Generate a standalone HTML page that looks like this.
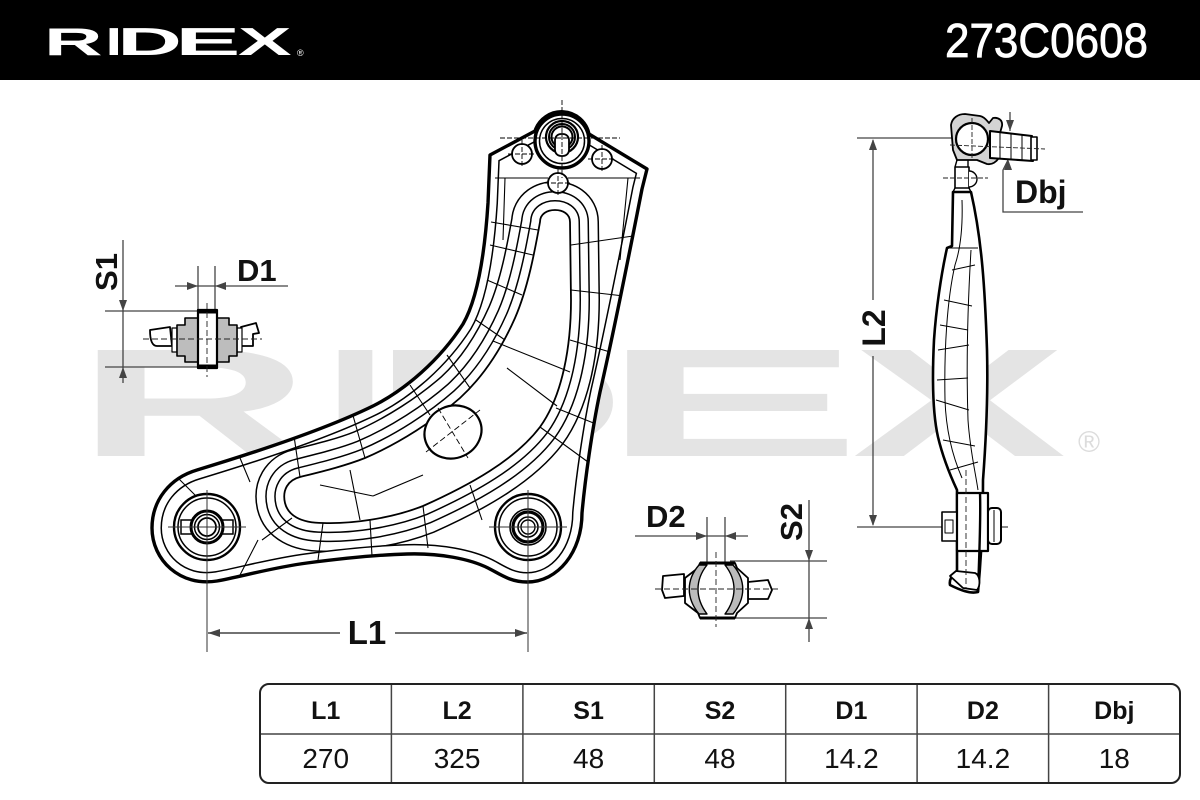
<!DOCTYPE html>
<html>
<head>
<meta charset="utf-8">
<style>
html,body{margin:0;padding:0;background:#fff;}
svg{display:block;}
</style>
</head>
<body>
<svg width="1200" height="800" viewBox="0 0 1200 800" xmlns="http://www.w3.org/2000/svg" font-family="'Liberation Sans', Arial, sans-serif">
<defs>
  <clipPath id="armclip">
    <path d="M490,155 L535,131 A28,28 0 0 1 589,134 L647,169 L642,189 C632,240 612,340 600,392 C592,430 585,480 582,513 C582,552 558,582 527,582 C510,582 500,574 488,568 C470,559 440,553 407,554 C370,555 330,560 307,563 C270,568 240,577 217,581 C180,587 152,560 152,528 C152,500 170,478 197,470 C240,457 320,432 373,406 C405,390 440,360 463,324 C478,298 485,250 488,203 Z"/>
  </clipPath>
</defs>

<rect width="1200" height="800" fill="#fff"/>

<!-- HEADER -->
<rect x="0" y="0" width="1200" height="80" fill="#000"/>
<g fill="#fff" font-weight="700" font-size="38.5">
  <text x="44" y="55" textLength="58.6" lengthAdjust="spacingAndGlyphs">R</text>
  <text x="105.7" y="55" textLength="16.3" lengthAdjust="spacingAndGlyphs">I</text>
  <text x="117.3" y="55" textLength="64.7" lengthAdjust="spacingAndGlyphs">D</text>
  <text x="175.3" y="55" textLength="65.2" lengthAdjust="spacingAndGlyphs">E</text>
  <text x="238" y="55" textLength="53.6" lengthAdjust="spacingAndGlyphs">X</text>
</g>
<text x="297" y="56" font-size="9" fill="#fff">®</text>
<text x="945" y="57" font-size="48.5" fill="#fff" stroke="#fff" stroke-width="0.8" textLength="203" lengthAdjust="spacingAndGlyphs">273C0608</text>

<!-- WATERMARK -->
<g fill="#e4e4e4" font-weight="700" font-size="154">
  <text x="76" y="456" textLength="234.6" lengthAdjust="spacingAndGlyphs">R</text>
  <text x="323" y="456" textLength="65" lengthAdjust="spacingAndGlyphs">I</text>
  <text x="369" y="456" textLength="259" lengthAdjust="spacingAndGlyphs">D</text>
  <text x="601" y="456" textLength="261" lengthAdjust="spacingAndGlyphs">E</text>
  <text x="852" y="456" textLength="214.5" lengthAdjust="spacingAndGlyphs">X</text>
</g>
<text x="1089" y="452" font-size="30" fill="#dcdcdc" text-anchor="middle">®</text>

<!-- ===== MAIN ARM ===== -->
<path d="M490,155 L535,131 A28,28 0 0 1 589,134 L647,169 L642,189 C632,240 612,340 600,392 C592,430 585,480 582,513 C582,552 558,582 527,582 C510,582 500,574 488,568 C470,559 440,553 407,554 C370,555 330,560 307,563 C270,568 240,577 217,581 C180,587 152,560 152,528 C152,500 170,478 197,470 C240,457 320,432 373,406 C405,390 440,360 463,324 C478,298 485,250 488,203 Z" fill="#fff"/>

<g clip-path="url(#armclip)" stroke-linejoin="round" fill="none">
  <path d="M540,222 C540,214 547,210 555,210 C563,210 570,214 570,222 L571,300 C571,345 563,395 540,427 C515,460 470,485 423,506 C390,519 350,524 323,523 C300,523 288,515 285,503 C282,490 288,480 300,477 C320,472 345,466 365,458 C400,443 435,420 460,398 C485,375 503,345 515,318 C528,288 535,250 540,222 Z" stroke="#000" stroke-width="58"/>
  <path d="M540,222 C540,214 547,210 555,210 C563,210 570,214 570,222 L571,300 C571,345 563,395 540,427 C515,460 470,485 423,506 C390,519 350,524 323,523 C300,523 288,515 285,503 C282,490 288,480 300,477 C320,472 345,466 365,458 C400,443 435,420 460,398 C485,375 503,345 515,318 C528,288 535,250 540,222 Z" stroke="#fff" stroke-width="55"/>
  <path d="M540,222 C540,214 547,210 555,210 C563,210 570,214 570,222 L571,300 C571,345 563,395 540,427 C515,460 470,485 423,506 C390,519 350,524 323,523 C300,523 288,515 285,503 C282,490 288,480 300,477 C320,472 345,466 365,458 C400,443 435,420 460,398 C485,375 503,345 515,318 C528,288 535,250 540,222 Z" stroke="#000" stroke-width="38"/>
  <path d="M540,222 C540,214 547,210 555,210 C563,210 570,214 570,222 L571,300 C571,345 563,395 540,427 C515,460 470,485 423,506 C390,519 350,524 323,523 C300,523 288,515 285,503 C282,490 288,480 300,477 C320,472 345,466 365,458 C400,443 435,420 460,398 C485,375 503,345 515,318 C528,288 535,250 540,222 Z" stroke="#fff" stroke-width="35"/>
  <path d="M540,222 C540,214 547,210 555,210 C563,210 570,214 570,222 L571,300 C571,345 563,395 540,427 C515,460 470,485 423,506 C390,519 350,524 323,523 C300,523 288,515 285,503 C282,490 288,480 300,477 C320,472 345,466 365,458 C400,443 435,420 460,398 C485,375 503,345 515,318 C528,288 535,250 540,222 Z" stroke="#000" stroke-width="20"/>
  <path d="M540,222 C540,214 547,210 555,210 C563,210 570,214 570,222 L571,300 C571,345 563,395 540,427 C515,460 470,485 423,506 C390,519 350,524 323,523 C300,523 288,515 285,503 C282,490 288,480 300,477 C320,472 345,466 365,458 C400,443 435,420 460,398 C485,375 503,345 515,318 C528,288 535,250 540,222 Z" stroke="#fff" stroke-width="17"/>
  <path d="M540,222 C540,214 547,210 555,210 C563,210 570,214 570,222 L571,300 C571,345 563,395 540,427 C515,460 470,485 423,506 C390,519 350,524 323,523 C300,523 288,515 285,503 C282,490 288,480 300,477 C320,472 345,466 365,458 C400,443 435,420 460,398 C485,375 503,345 515,318 C528,288 535,250 540,222 Z" stroke="#000" stroke-width="1.8" fill="#fff"/>

  <path d="M490,155 L535,131 A28,28 0 0 1 589,134 L647,169 L642,189 C632,240 612,340 600,392 C592,430 585,480 582,513 C582,552 558,582 527,582 C510,582 500,574 488,568 C470,559 440,553 407,554 C370,555 330,560 307,563 C270,568 240,577 217,581 C180,587 152,560 152,528 C152,500 170,478 197,470 C240,457 320,432 373,406 C405,390 440,360 463,324 C478,298 485,250 488,203 Z" stroke="#000" stroke-width="20"/>
  <path d="M490,155 L535,131 A28,28 0 0 1 589,134 L647,169 L642,189 C632,240 612,340 600,392 C592,430 585,480 582,513 C582,552 558,582 527,582 C510,582 500,574 488,568 C470,559 440,553 407,554 C370,555 330,560 307,563 C270,568 240,577 217,581 C180,587 152,560 152,528 C152,500 170,478 197,470 C240,457 320,432 373,406 C405,390 440,360 463,324 C478,298 485,250 488,203 Z" stroke="#fff" stroke-width="17"/>

  <g stroke="#000" stroke-width="1.1">
    <path d="M495,178 L548,178 M568,178 L640,178"/>
    <path d="M505,178 L503,240 M628,178 L620,260"/>
    <path d="M571,245 L633,236 M571,290 L624,296 M570,340 L610,352 M556,408 L596,424 M540,427 L588,462"/>
    <path d="M470,485 L482,520 M423,506 L428,548 M370,520 L372,556 M323,523 L318,560 M292,518 L262,540"/>
    <path d="M300,477 L294,436 M365,458 L352,412 M430,415 L410,385 M470,388 L447,355 M505,340 L476,320 M522,295 L487,280 M533,255 L490,245 M538,230 L491,222"/>
    <path d="M493,341 L570,372 M507,368 L557,406 M320,485 L373,496 M373,496 L423,475 M350,470 L360,520"/>
    <path d="M240,458 L250,482 M200,500 L175,475 M258,540 L240,575"/>
  </g>
</g>

<path d="M490,155 L535,131 A28,28 0 0 1 589,134 L647,169 L642,189 C632,240 612,340 600,392 C592,430 585,480 582,513 C582,552 558,582 527,582 C510,582 500,574 488,568 C470,559 440,553 407,554 C370,555 330,560 307,563 C270,568 240,577 217,581 C180,587 152,560 152,528 C152,500 170,478 197,470 C240,457 320,432 373,406 C405,390 440,360 463,324 C478,298 485,250 488,203 Z" fill="none" stroke="#000" stroke-width="3.4" stroke-linejoin="round"/>

<g fill="#fff" stroke="#000">
  <circle cx="562" cy="141" r="27" stroke-width="3.4"/>
  <circle cx="562" cy="141" r="22.5" stroke-width="1.5"/>
  <circle cx="562" cy="137" r="16" stroke-width="2.2"/>
  <circle cx="562" cy="137" r="13" stroke-width="2"/>
  <circle cx="562" cy="137" r="10.5" stroke-width="2"/>
  <rect x="555" y="134" width="14" height="22" rx="6" stroke-width="1.8"/>
  <circle cx="522" cy="154" r="10" stroke-width="1.8"/>
  <circle cx="602" cy="159" r="10" stroke-width="1.8"/>
  <circle cx="558" cy="183" r="10" stroke-width="1.8"/>
</g>
<g stroke="#000" stroke-width="0.9" fill="none" stroke-dasharray="5 2">
  <path d="M562,100 L562,178 M500,138 L620,138"/>
  <path d="M508,154 L536,154 M522,140 L522,168"/>
  <path d="M588,159 L616,159 M602,145 L602,173"/>
  <path d="M544,183 L572,183 M558,169 L558,197"/>
</g>

<ellipse cx="453" cy="432" rx="29" ry="26" transform="rotate(-25 453 432)" fill="#fff" stroke="#000" stroke-width="2.2"/>
<g stroke="#000" stroke-width="0.9" stroke-dasharray="6 3">
  <path d="M426,452 L480,410 M438,408 L468,458"/>
</g>

<g fill="#fff" stroke="#000">
  <circle cx="207" cy="527" r="33" stroke-width="2.4"/>
  <circle cx="207" cy="527" r="29" stroke-width="1.5"/>
  <rect x="181" y="520" width="52" height="14" stroke-width="1.5"/>
  <circle cx="207" cy="527" r="16" stroke-width="3"/>
  <circle cx="207" cy="527" r="12.5" stroke-width="1.5"/>
  <circle cx="207" cy="527" r="9" stroke-width="1.8"/>

  <circle cx="528" cy="527" r="33" stroke-width="2.4"/>
  <circle cx="528" cy="527" r="29" stroke-width="1.5"/>
  <circle cx="528" cy="527" r="18" stroke-width="1.6"/>
  <circle cx="528" cy="527" r="15" stroke-width="3.2"/>
  <circle cx="528" cy="527" r="10" stroke-width="1.6"/>
  <circle cx="528" cy="527" r="7" stroke-width="1.4"/>
</g>
<g stroke="#333" stroke-width="1" fill="none">
  <path d="M168,527 L246,527 M489,527 L567,527"/>
  <path d="M207,490 L207,652 M528,490 L528,652"/>
</g>

<g stroke="#444" stroke-width="1.4">
  <path d="M208,633 L340,633 M395,633 L527,633"/>
</g>
<g fill="#444">
  <polygon points="208,633 220,629 220,637"/>
  <polygon points="527,633 515,629 515,637"/>
</g>
<text x="367" y="644" font-size="33" font-weight="700" text-anchor="middle" fill="#111">L1</text>

<!-- S1 / D1 -->
<g stroke="#444" stroke-width="1.3" fill="none">
  <path d="M123,240 L123,383"/>
  <path d="M105,311 L198,311 M105,367 L198,367"/>
  <path d="M198,266 L198,312 M215,266 L215,312"/>
  <path d="M175,286 L288,286"/>
</g>
<g fill="#444">
  <polygon points="123,311 119,300 127,300"/>
  <polygon points="123,367 119,378 127,378"/>
  <polygon points="198,286 187,282 187,290"/>
  <polygon points="215,286 226,282 226,290"/>
</g>
<text transform="translate(117,272) rotate(-90)" font-size="31" font-weight="700" text-anchor="middle" fill="#111">S1</text>
<text x="237" y="281" font-size="31" font-weight="700" fill="#111">D1</text>

<g stroke="#000" stroke-linejoin="round">
  <path d="M150,330 L170,327 L172,346 L157,346 C152,346 150,340 150,330 Z" fill="#fff" stroke-width="1.8"/>
  <path d="M241,327 L256,323 L259,333 L253,334 L253,346 L241,346 Z" fill="#fff" stroke-width="1.8"/>
  <rect x="172" y="328" width="5" height="24" fill="#fff" stroke-width="1.2"/>
  <rect x="237" y="328" width="5" height="24" fill="#fff" stroke-width="1.2"/>
  <polygon points="177,325 185,325 185,318 229,318 229,325 237,325 237,356 229,356 229,362 185,362 185,356 177,356" fill="#bdbdbd" stroke-width="1.6"/>
  <rect x="198" y="310" width="19" height="58" fill="#fff" stroke-width="2.2"/>
  <path d="M198,312 L217,312 M198,366 L217,366" stroke-width="3"/>
</g>
<g stroke="#222" stroke-width="0.9" stroke-dasharray="6 3">
  <path d="M143,339 L262,339 M207,303 L207,377"/>
</g>

<!-- S2 / D2 -->
<g stroke="#444" stroke-width="1.3" fill="none">
  <path d="M809,500 L809,642"/>
  <path d="M730,561 L827,561 M730,618 L827,618"/>
  <path d="M707,517 L707,562 M725,517 L725,562"/>
  <path d="M635,536 L748,536"/>
</g>
<g fill="#444">
  <polygon points="809,561 805,550 813,550"/>
  <polygon points="809,618 805,629 813,629"/>
  <polygon points="707,536 696,532 696,540"/>
  <polygon points="725,536 736,532 736,540"/>
</g>
<text transform="translate(802,522) rotate(-90)" font-size="31" font-weight="700" text-anchor="middle" fill="#111">S2</text>
<text x="646" y="527" font-size="31" font-weight="700" fill="#111">D2</text>

<g stroke="#000" stroke-linejoin="round">
  <path d="M663,576 L684,574 L684,596 L665,598 L662,590 Z" fill="#fff" stroke-width="1.8"/>
  <path d="M748,582 L768,580 L772,590 L768,599 L748,599 Z" fill="#fff" stroke-width="1.8"/>
  <path d="M700,563 L735,563 L737,568 L748,578 L748,603 L737,613 L735,618 L700,618 L698,613 L685,603 L685,578 L698,568 Z" fill="#fff" stroke-width="1.8"/>
  <path d="M699,565 C686,580 686,598 699,614 L707,614 C695,598 695,580 707,565 Z" fill="#bbb" stroke-width="1.4"/>
  <path d="M733,565 C746,580 746,598 733,614 L725,614 C737,598 737,580 725,565 Z" fill="#bbb" stroke-width="1.4"/>
  <path d="M700,563 L735,563 M700,618 L735,618" stroke-width="3"/>
</g>
<g stroke="#222" stroke-width="0.9" stroke-dasharray="6 3">
  <path d="M655,589 L778,589 M716,552 L716,627"/>
</g>

<!-- SIDE VIEW -->
<g stroke="#444" stroke-width="1.3" fill="none">
  <path d="M873,140 L873,300 M873,356 L873,525"/>
  <path d="M857,138 L960,138 M857,527 L1008,527"/>
  <path d="M1010,112 L1010,131"/>
  <path d="M1008,160 L1003,170 L1003,212 L1083,212"/>
</g>
<g fill="#444">
  <polygon points="873,139 869,150 877,150"/>
  <polygon points="873,526 869,515 877,515"/>
  <polygon points="1010,131 1006,120 1014,120"/>
  <polygon points="1008,159 1004,170 1012,170"/>
</g>
<text transform="translate(885,328) rotate(-90)" font-size="32" font-weight="700" text-anchor="middle" fill="#111">L2</text>
<text x="1015" y="203" font-size="32" font-weight="700" fill="#111">Dbj</text>

<path d="M953,192 L952,246 L947,248 C941,275 936,310 934,340 C932,380 933,415 938,437 C943,458 950,475 957,490 L957,572 C952,574 949,580 950,585 C960,590 970,594 978,592 C981,560 983,520 983,480 C986,440 988,390 987,350 C985,290 982,240 971,192 Z" fill="#fff" stroke="#000" stroke-width="2.6" stroke-linejoin="round"/>
<g stroke="#000" stroke-width="1" fill="none">
  <path d="M962,200 C963,230 960,250 955,265 C947,300 944,350 945,400 C946,430 952,455 962,478"/>
  <path d="M971,250 C968,300 966,360 968,420 C970,450 975,470 978,490"/>
  <path d="M947,248 L978,248 M944,300 L972,306 M938,350 L969,345 M936,400 L969,410 M943,440 L975,446 M950,470 L978,462"/>
  <path d="M952,270 L975,265 M940,325 L968,330 M937,380 L968,378"/>
</g>

<g stroke="#000" stroke-linejoin="round">
  <path d="M953,150 L951,125 C952,118 958,114 965,114 L980,116 C985,117 987,121 989,123 L993,118 C998,117 1003,120 1002,126 L1000,133 L999,158 C996,162 992,165 987,164 L977,160 L957,160 Z" fill="#d4d4d4" stroke-width="1.8"/>
  <circle cx="972" cy="139" r="16" fill="#fff" stroke-width="2.2"/>
  <polygon points="990,131 1032,136 1033,161 990,158" fill="#fff" stroke-width="2"/>
  <rect x="1031" y="137" width="6" height="23" fill="#fff" stroke-width="1.6"/>
  <path d="M1000,133 L1000,159 M1011,134 L1011,160 M1022,135 L1022,160" stroke-width="1" fill="none"/>
  <rect x="955" y="167" width="14" height="21" fill="#fff" stroke-width="1.6"/>
  <path d="M969,171 A8,8 0 0 1 969,187" fill="#fff" stroke-width="1.4"/>
  <path d="M957,160 L955,167 M968,160 L968,167 M955,188 L953,192 M969,188 L971,192" stroke-width="1.4" fill="none"/>
</g>
<g stroke="#222" stroke-width="0.9" stroke-dasharray="5 2" fill="none">
  <path d="M950,145 L1045,149 M972,118 L972,160 M943,178 L988,178"/>
</g>

<g stroke="#000" stroke-linejoin="round">
  <rect x="942" y="512" width="15" height="29" fill="#fff" stroke-width="1.6"/>
  <rect x="945" y="520" width="8" height="13" fill="#fff" stroke-width="1"/>
  <rect x="957" y="493" width="31" height="58" fill="#fff" stroke-width="2.2"/>
  <rect x="988" y="508" width="13" height="36" rx="4" fill="#fff" stroke-width="2"/>
  <path d="M994,510 L994,542" stroke-width="1" fill="none"/>
  <path d="M980,493 C981,520 979,560 978,592" stroke-width="2.4" fill="none"/>
  <path d="M950,576 L956,571 L975,573 C980,575 981,585 977,590 L963,588 Z" fill="#fff" stroke-width="1.8"/>
</g>
<g stroke="#222" stroke-width="0.9" stroke-dasharray="6 3" fill="none">
  <path d="M966,470 L966,588"/>
</g>

<!-- TABLE -->
<rect x="260" y="684" width="920" height="99" rx="9" fill="none" stroke="#222" stroke-width="2"/>
<g stroke="#444" stroke-width="1.5">
  <path d="M261,734 L1179,734"/>
  <path d="M391.4,685 L391.4,782 M522.9,685 L522.9,782 M654.3,685 L654.3,782 M785.7,685 L785.7,782 M917.1,685 L917.1,782 M1048.6,685 L1048.6,782"/>
</g>
<g font-size="25" font-weight="700" text-anchor="middle" fill="#111">
  <text x="325.7" y="719">L1</text>
  <text x="457.1" y="719">L2</text>
  <text x="588.6" y="719">S1</text>
  <text x="720" y="719">S2</text>
  <text x="851.4" y="719">D1</text>
  <text x="982.9" y="719">D2</text>
  <text x="1114.3" y="719">Dbj</text>
</g>
<g font-size="28" text-anchor="middle" fill="#111">
  <text x="325.7" y="768">270</text>
  <text x="457.1" y="768">325</text>
  <text x="588.6" y="768">48</text>
  <text x="720" y="768">48</text>
  <text x="851.4" y="768">14.2</text>
  <text x="982.9" y="768">14.2</text>
  <text x="1114.3" y="768">18</text>
</g>
</svg>
</body>
</html>
